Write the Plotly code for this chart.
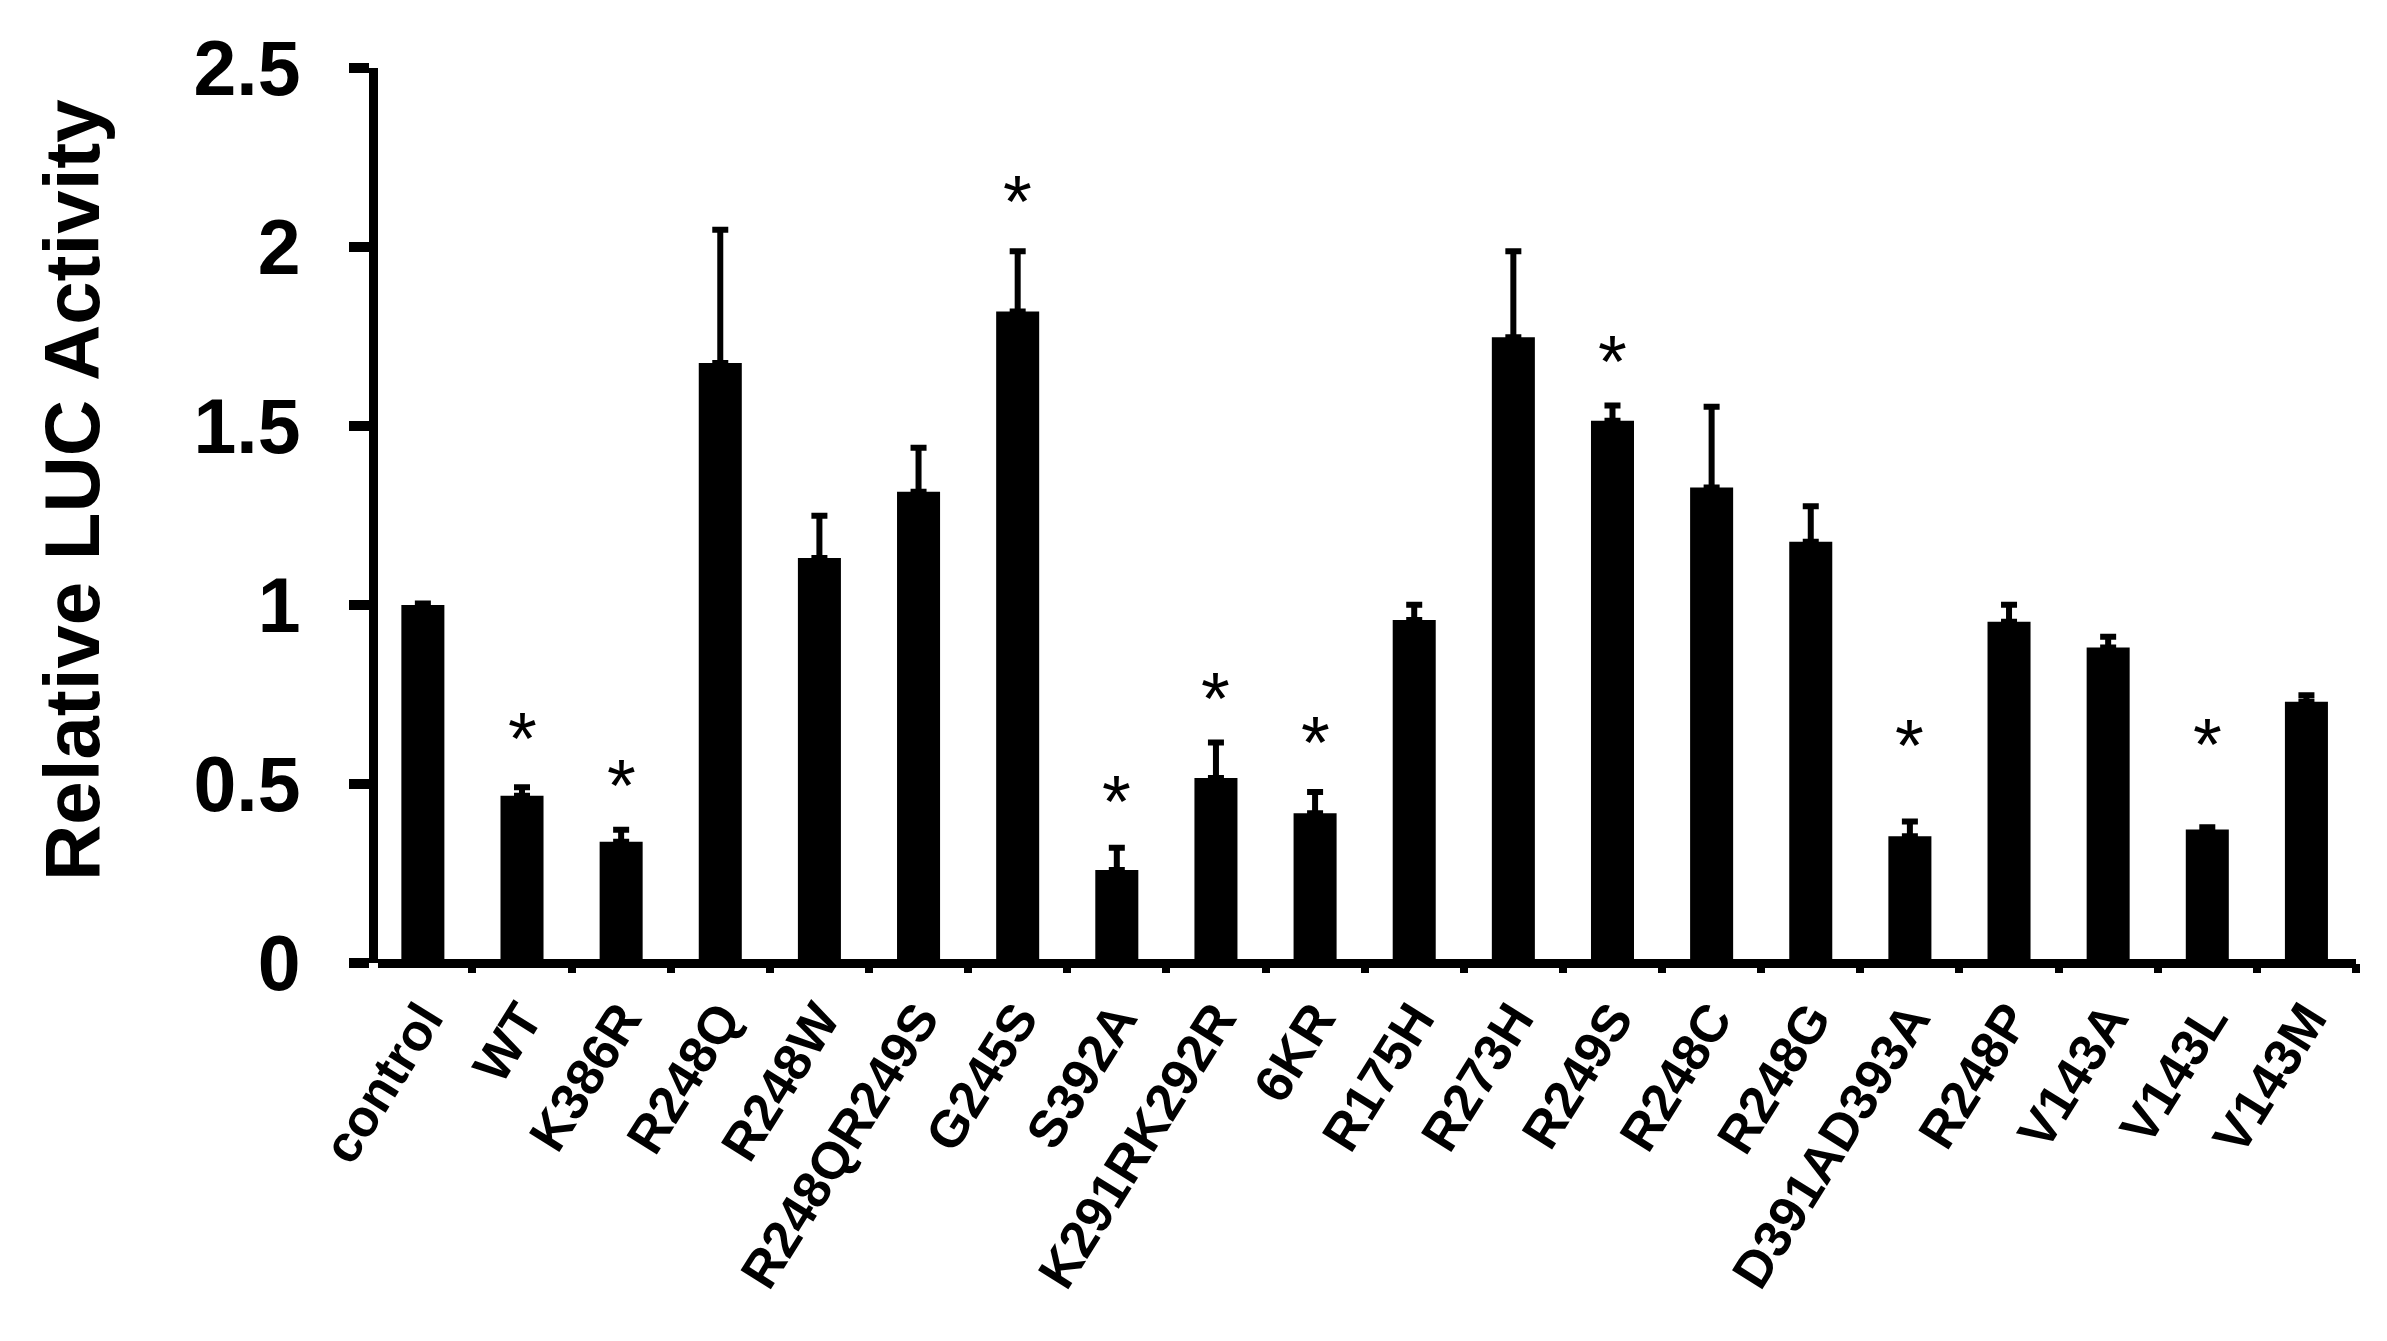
import plotly.graph_objects as go

categories = ["control", "WT", "K386R", "R248Q", "R248W", "R248QR249S", "G245S",
              "S392A", "K291RK292R", "6KR", "R175H", "R273H", "R249S", "R248C",
              "R248G", "D391AD393A", "R248P", "V143A", "V143L", "V143M"]
values = [1.000, 0.467, 0.339, 1.676, 1.131, 1.316, 1.820, 0.260, 0.517, 0.418,
          0.958, 1.748, 1.515, 1.328, 1.177, 0.354, 0.953, 0.881, 0.373, 0.730]
errors = [0.004, 0.024, 0.033, 0.372, 0.118, 0.123, 0.168, 0.062, 0.099, 0.060,
          0.043, 0.240, 0.042, 0.226, 0.099, 0.041, 0.048, 0.030, 0.006, 0.018]
star_categories = ["WT", "K386R", "G245S", "S392A", "K291RK292R", "6KR",
                   "R249S", "D391AD393A", "V143L"]
star_heights = [0.653, 0.520, 2.151, 0.477, 0.764, 0.640, 1.705, 0.633, 0.636]
ytick_vals = [0, 0.5, 1, 1.5, 2, 2.5]
ytick_text = ["0", "0.5", "1", "1.5", "2", "2.5"]
y_title = "Relative LUC Activity"

# page has an 8px body margin; figure sized to fit inside the window
W, H = 2371, 1325
ML, MR, MT, MB = 370, 23, 60, 370
FONT = "Liberation Sans, Arial, sans-serif"
PW, PH = W - ML - MR, H - MT - MB

fig = go.Figure()
fig.add_trace(go.Bar(
    x=categories, y=values,
    marker=dict(color="black", line=dict(width=0)),
    width=0.434,
    error_y=dict(type="data", symmetric=False, array=errors,
                 arrayminus=[0] * len(errors),
                 color="black", thickness=6, width=8),
    showlegend=False,
))

for c, h in zip(star_categories, star_heights):
    fig.add_annotation(x=c, y=h, xref="x", yref="y", text="*", showarrow=False,
                       xanchor="center", yanchor="middle", yshift=-9,
                       font=dict(family=FONT, size=74, color="black"))

fig.add_annotation(x=(64 - ML) / PW, y=(H - MB - 482) / PH,
                   xref="paper", yref="paper", text=y_title, textangle=-90,
                   showarrow=False, xanchor="center", yanchor="middle",
                   font=dict(family=FONT, size=78, color="black", weight="bold"))

fig.update_layout(
    width=W, height=H,
    margin=dict(l=ML, r=MR, t=MT, b=MB, pad=0),
    paper_bgcolor="white", plot_bgcolor="white",
    bargap=0.566,
    xaxis=dict(type="category", range=[-0.4526, 19.5],
               showline=False, showgrid=False, zeroline=False,
               ticks="outside", tickson="boundaries", ticklen=9, tickwidth=8,
               tickcolor="black", tickangle=-58, ticklabelstandoff=14,
               tickfont=dict(family=FONT, size=52, color="black", weight="bold")),
    yaxis=dict(range=[0, 2.5], tickvals=ytick_vals, ticktext=ytick_text,
               showline=True, linewidth=9, linecolor="black",
               showgrid=False, zeroline=True, zerolinewidth=9, zerolinecolor="black",
               ticks="outside", ticklen=20, tickwidth=10, tickcolor="black",
               ticklabelstandoff=33,
               tickfont=dict(family=FONT, size=77, color="black", weight="bold")),
)

fig.write_html("out.html")
